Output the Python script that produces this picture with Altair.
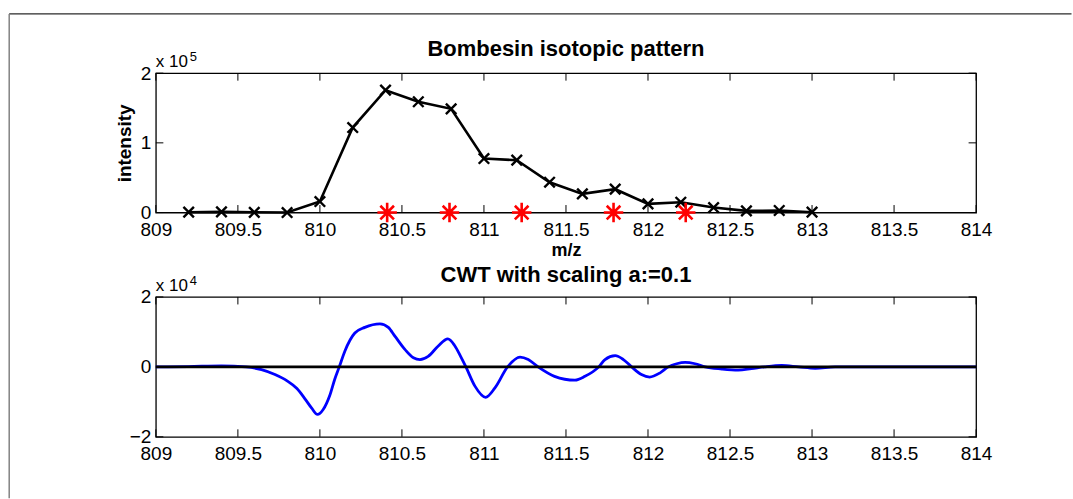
import altair as alt
import pandas as pd

# ---------------- data ----------------
mz = [809.2, 809.4, 809.6, 809.8, 810.0, 810.2, 810.4, 810.6, 810.8, 811.0,
      811.2, 811.4, 811.6, 811.8, 812.0, 812.2, 812.4, 812.6, 812.8, 813.0]
intensity = [500, 1000, 300, 0, 15800, 122000, 175600, 159000, 148800, 77500,
             75100, 43500, 26800, 33500, 12400, 14800, 7200, 2400, 2900, 500]

peak_mz = [810.41, 810.79, 811.23, 811.79, 812.23]
peak_int = [0, 0, 0, 0, 0]

cwt_mz = [809.0, 809.2, 809.4, 809.55, 809.644, 809.726, 809.8, 809.86, 809.91,
          809.95, 809.985, 810.02, 810.06, 810.09, 810.118, 810.152, 810.213, 810.274,
          810.366, 810.417, 810.457, 810.518, 810.57, 810.61, 810.66, 810.72, 810.78,
          810.82, 810.86, 810.89, 810.945, 811.01, 811.067, 811.144, 811.22, 811.27,
          811.33, 811.43, 811.555, 811.616, 811.70, 811.738, 811.80, 811.85, 811.90,
          811.96, 812.01, 812.074, 812.124, 812.175, 812.226, 812.287, 812.348, 812.45,
          812.55, 812.63, 812.71, 812.815, 812.917, 813.02, 813.14, 813.5, 814.0]
cwt_val = [0, 100, 300, 0, -800, -2200, -4000, -6200, -9200,
           -11800, -13600, -12200, -8200, -3600, 0, 4500, 9700, 11300,
           12300, 11300, 8800, 5000, 2600, 2100, 3000, 5900, 8000,
           6200, 2800, 0, -5500, -8700, -6000, 0, 2800, 2100,
           0, -2700, -3800, -2700, 0, 2100, 3200, 2100, 0,
           -2200, -2900, -1700, 0, 900, 1300, 900, 0, -600,
           -900, -500, 0, 400, 0, -400, 0, 0, 0]

x_ticks = [809, 809.5, 810, 810.5, 811, 811.5, 812, 812.5, 813, 813.5, 814]
top_y_ticks = [0, 100000, 200000]
bot_y_ticks = [-20000, 0, 20000]

top_title = "Bombesin isotopic pattern"
bottom_title = "CWT with scaling a:=0.1"

# ---------------- layout constants ----------------
W = 821
H1 = 139.5
H2 = 140
TICK = 7.5
FONT = "Liberation Sans"

X_PATH = "M-1,-1L1,1M1,-1L-1,1"
STAR_PATH = "M0,-1L0,1M-1,0L1,0M-0.7,-0.7L0.7,0.7M0.7,-0.7L-0.7,0.7"

top_df = pd.DataFrame({"mz": mz, "intensity": intensity})
peaks_df = pd.DataFrame({"mz": peak_mz, "intensity": peak_int})
cwt_df = pd.DataFrame({"mz": cwt_mz, "cwt": cwt_val})
xt_df = pd.DataFrame({"mz": x_ticks})
yt1_df = pd.DataFrame({"intensity": top_y_ticks})
yt2_df = pd.DataFrame({"cwt": bot_y_ticks})
one_df = pd.DataFrame({"k": [0]})

xscale = alt.Scale(domain=[809, 814], nice=False, zero=False)


def xenc(title):
    return alt.X("mz:Q", scale=xscale,
                 axis=alt.Axis(values=x_ticks, format="~g", title=title,
                               labelFlush=False, labelOverlap=False,
                               labelPadding=8, titlePadding=2,
                               titleFontSize=18, titleFontWeight="bold",
                               titleFont=FONT))


def y1enc():
    return alt.Y("intensity:Q", scale=alt.Scale(domain=[0, 200000], nice=False),
                 axis=alt.Axis(values=top_y_ticks, title="intensity",
                               labelExpr="format(datum.value/100000, 'd')",
                               labelFlush=False, labelOverlap=False,
                               labelPadding=5, titlePadding=6,
                               titleFontSize=19, titleFontWeight="bold",
                               titleFont=FONT))


def y2enc():
    return alt.Y("cwt:Q", scale=alt.Scale(domain=[-20000, 20000], nice=False),
                 axis=alt.Axis(values=bot_y_ticks, title=None,
                               labelFlush=False, labelOverlap=False,
                               labelExpr="datum.value < 0 ? '\u2212' + format(-datum.value/10000, 'd') : format(datum.value/10000, 'd')",
                               labelPadding=5))


def tick_layers(xtitle, yenc_fn, yt, h):
    bx = alt.Chart(xt_df).mark_rule(color="black", strokeWidth=1).encode(
        x=xenc(xtitle), y=alt.value(h), y2=alt.value(h - TICK))
    tx = alt.Chart(xt_df).mark_rule(color="black", strokeWidth=1).encode(
        x=xenc(xtitle), y=alt.value(0), y2=alt.value(TICK))
    ly = alt.Chart(yt).mark_rule(color="black", strokeWidth=1).encode(
        y=yenc_fn(), x=alt.value(0), x2=alt.value(TICK))
    ry = alt.Chart(yt).mark_rule(color="black", strokeWidth=1).encode(
        y=yenc_fn(), x=alt.value(W), x2=alt.value(W - TICK))
    return [bx, tx, ly, ry]


def mult_text(exp):
    base = alt.Chart(one_df).mark_text(
        text="x 10", align="left", baseline="alphabetic", fontSize=17,
        font=FONT, color="black").encode(x=alt.value(0), y=alt.value(-6))
    sup = alt.Chart(one_df).mark_text(
        text=exp, align="left", baseline="alphabetic", fontSize=13,
        font=FONT, color="black").encode(x=alt.value(34), y=alt.value(-12))
    return [base, sup]


def title_text(txt, dy):
    return alt.Chart(one_df).mark_text(
        text=txt, align="center", baseline="alphabetic", fontSize=22,
        fontWeight="bold", font=FONT, color="black").encode(
        x=alt.value(W / 2), y=alt.value(-dy))


# ---------------- top panel ----------------
line1 = alt.Chart(top_df).mark_line(color="black", strokeWidth=2.6).encode(
    x=xenc("m/z"), y=y1enc())
pts1 = alt.Chart(top_df).mark_point(shape=X_PATH, size=110, color="black",
                                     filled=False, strokeWidth=2.4, opacity=1).encode(
    x=xenc("m/z"), y=y1enc())
stars = alt.Chart(peaks_df).mark_point(shape=STAR_PATH, size=380, color="#ff0000",
                                        filled=False, strokeWidth=2.6, opacity=1).encode(
    x=xenc("m/z"), y=y1enc())

# outer figure frame (pixel annotation)
frame_top = alt.Chart(one_df).mark_rule(color="#2a2a2a", strokeWidth=1.4).encode(
    x=alt.value(-146.8), x2=alt.value(916.5), y=alt.value(-59.3))
frame_left = alt.Chart(one_df).mark_rule(color="#7a7a7a", strokeWidth=1.4).encode(
    y=alt.value(-59.3), y2=alt.value(425.5), x=alt.value(-146.8))

top = alt.layer(
    line1, pts1, stars,
    *tick_layers("m/z", y1enc, yt1_df, H1),
    *mult_text("5"),
    title_text(top_title, 17.3),
    frame_top, frame_left,
).properties(width=W, height=H1)

# ---------------- bottom panel ----------------
line2 = alt.Chart(cwt_df).mark_line(color="#0000ff", strokeWidth=2.8,
                                     interpolate="monotone").encode(
    x=xenc(None), y=y2enc())
zero = alt.Chart(one_df).mark_rule(color="black", strokeWidth=2.6).encode(
    y=alt.datum(0))

bottom = alt.layer(
    line2, zero,
    *tick_layers(None, y2enc, yt2_df, H2),
    *mult_text("4"),
    title_text(bottom_title, 15),
).properties(width=W, height=H2)

chart = alt.vconcat(top, bottom, spacing=84, bounds="flush").properties(
    padding={"left": 7, "top": 12, "right": 0, "bottom": 0},
    background="white",
).configure_view(
    stroke="black", strokeWidth=1.3,
).configure_axis(
    domain=False, ticks=False, tickSize=0, grid=False,
    labelFont=FONT, labelFontSize=19, labelColor="black",
    titleColor="black",
)

chart.save("out.html", embed_options={"renderer": "svg", "actions": False})
